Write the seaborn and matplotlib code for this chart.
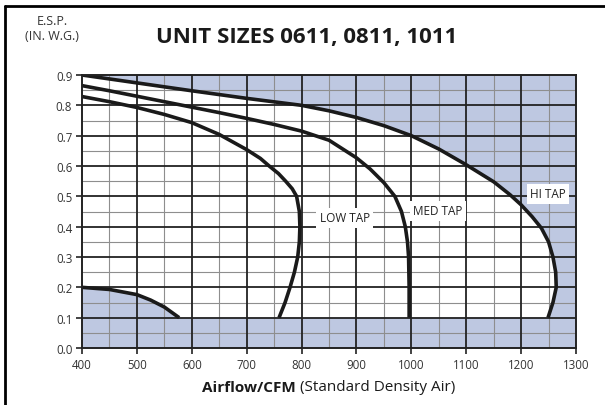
import matplotlib
matplotlib.use("Agg")
import matplotlib.pyplot as plt
import seaborn as sns
import numpy as np
from matplotlib.lines import Line2D

sns.set_theme(style="white")
plt.rcParams['font.family'] = ['Open Sans', 'DejaVu Sans']

# ---- data (CFM, E.S.P. in. w.g.) ----
hi_cfm = [400, 500, 600, 700, 800, 850, 900, 950, 1000, 1050, 1100, 1150, 1180, 1200,
          1220, 1237, 1250, 1258, 1263, 1264, 1258, 1249]
hi_esp = [0.900, 0.874, 0.848, 0.823, 0.800, 0.782, 0.760, 0.733, 0.700, 0.656, 0.604, 0.548,
          0.505, 0.472, 0.433, 0.395, 0.35, 0.30, 0.25, 0.20, 0.15, 0.10]

med_cfm = [400, 450, 500, 550, 600, 650, 700, 750, 800, 850, 900, 925, 950, 970, 982,
           989, 993, 995, 996, 996]
med_esp = [0.865, 0.848, 0.830, 0.812, 0.794, 0.776, 0.757, 0.737, 0.715, 0.685, 0.627,
           0.590, 0.545, 0.50, 0.45, 0.40, 0.35, 0.30, 0.20, 0.10]

low_cfm = [400, 450, 500, 550, 600, 650, 700, 725, 741, 758, 771, 783, 791, 796, 797,
           796, 793, 787, 779, 770, 759]
low_esp = [0.829, 0.812, 0.793, 0.770, 0.743, 0.704, 0.654, 0.625, 0.60, 0.575, 0.55,
           0.525, 0.50, 0.45, 0.40, 0.35, 0.30, 0.25, 0.20, 0.15, 0.10]

min_cfm = [400, 450, 500, 525, 550, 577]
min_esp = [0.200, 0.193, 0.176, 0.158, 0.135, 0.100]

floor_esp = 0.10
x_ticks = [400, 500, 600, 700, 800, 900, 1000, 1100, 1200, 1300]
y_ticks = [0.0, 0.1, 0.2, 0.3, 0.4, 0.5, 0.6, 0.7, 0.8, 0.9]

tap_labels = ["LOW TAP", "MED TAP", "HI TAP"]
label_pos = [(879, 0.429), (1048, 0.452), (1249, 0.508)]

BLUE = '#bec8e1'

fig = plt.figure(figsize=(6.05, 4.06), dpi=100)
ax = fig.add_axes([82/605, 1-349/406, (576-82)/605, (349-76)/406])
ax.set_facecolor(BLUE)

# white operating region
poly_x = list(hi_cfm) + list(min_cfm[::-1]) + [400]
poly_y = list(hi_esp) + list(min_esp[::-1]) + [0.9]
ax.fill(poly_x, poly_y, color='white', zorder=1, lw=0)

# grid
for xv in np.arange(450, 1300, 100):
    ax.axvline(xv, color='#8e8e8e', lw=0.8, zorder=2)
for yv in np.arange(0.05, 0.9, 0.1):
    ax.axhline(yv, color='#8e8e8e', lw=0.8, zorder=2)
for xv in x_ticks[1:-1]:
    ax.axvline(xv, color='#222222', lw=1.3, zorder=2)
for yv in y_ticks[1:-1]:
    ax.axhline(yv, color='#222222', lw=1.3, zorder=2)

# curves
for cx, cy in [(hi_cfm, hi_esp), (med_cfm, med_esp), (low_cfm, low_esp), (min_cfm, min_esp)]:
    sns.lineplot(x=cx, y=cy, sort=False, estimator=None, ax=ax, color='#1a1a1a', lw=2.6,
                 zorder=4, solid_joinstyle='round', solid_capstyle='butt')

for lab, (lx, ly) in zip(tap_labels, label_pos):
    ax.text(lx, ly, lab, fontsize=8.5, color='#222222', ha='center', va='center', zorder=5,
            bbox=dict(facecolor='white', edgecolor='none', pad=2.5))

ax.set_xlim(400, 1300)
ax.set_ylim(0.0, 0.9)
ax.set_xticks(x_ticks)
ax.set_yticks(y_ticks)
ax.set_yticklabels([f"{v:.1f}" for v in y_ticks])
ax.tick_params(axis='both', direction='out', length=4, width=1.2, color='#222222',
               labelsize=8.3, labelcolor='#333333', pad=3, bottom=True, left=True)
for s in ax.spines.values():
    s.set_color('#222222')
    s.set_linewidth(1.4)
    s.set_zorder(6)
ax.set_xlabel('')
ax.set_ylabel('')

# titles
fig.text(307/605, 1-38/406, "UNIT SIZES 0611, 0811, 1011", fontsize=16, fontweight='bold',
         ha='center', va='center', color='#1a1a1a')
fig.text(52/605, 1-29/406, "E.S.P.\n(IN. W.G.)", fontsize=9, ha='center', va='center',
         color='#333333', linespacing=1.2)

# x label: bold part + normal part
fig.canvas.draw()
r = fig.canvas.get_renderer()
t1 = fig.text(0, 1-388/406, "Airflow/CFM", fontsize=11, fontweight='bold', ha='left', va='center', color='#1a1a1a')
t2 = fig.text(0, 1-388/406, " (Standard Density Air)", fontsize=11, ha='left', va='center', color='#1a1a1a')
w1 = t1.get_window_extent(r).width
w2 = t2.get_window_extent(r).width
cx = 329
start = cx - (w1 + w2) / 2
t1.set_x(start / 605)
t2.set_x((start + w1) / 605)

# figure frame (left and top)
fig.add_artist(Line2D([5/605, 5/605], [0, 1-7/406], transform=fig.transFigure, color='black', lw=2))
fig.add_artist(Line2D([5/605, 1], [1-7/406, 1-7/406], transform=fig.transFigure, color='black', lw=2))

fig.savefig("out.png", dpi=100)
